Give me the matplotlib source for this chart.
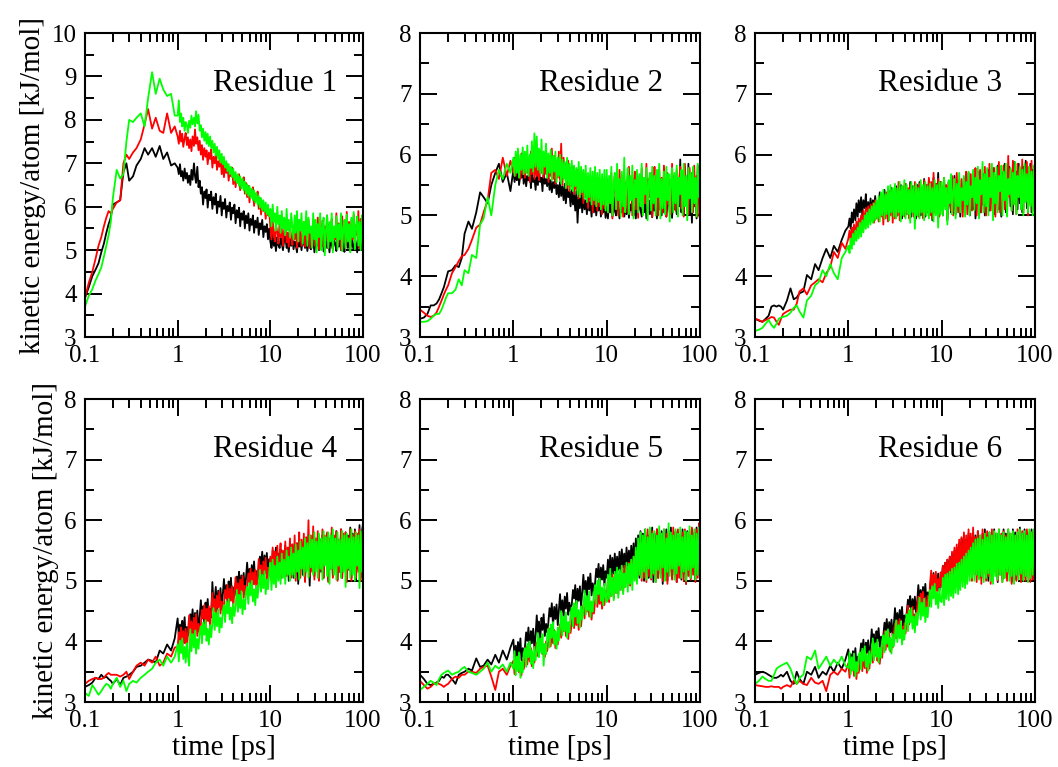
import matplotlib
matplotlib.use("Agg")
import matplotlib.pyplot as plt
from matplotlib.ticker import MultipleLocator, LogLocator, NullFormatter

plt.rcParams['font.family'] = ['Liberation Serif', 'DejaVu Serif']

# time axis shared by all traces (ps); denser sampling beyond 1 ps
time_ps = [
    0.10, 0.11, 0.12, 0.13, 0.14, 0.15, 0.16, 0.17, 0.18, 0.19,
    0.20, 0.22, 0.24, 0.26, 0.28, 0.30, 0.33, 0.36, 0.40, 0.44,
    0.48, 0.53, 0.58, 0.64, 0.70, 0.77, 0.85, 0.93,
    1.00, 1.03, 1.06, 1.09, 1.12, 1.15, 1.19, 1.22, 1.26, 1.29,
    1.33, 1.37, 1.41, 1.45, 1.50, 1.54, 1.58, 1.63, 1.68, 1.73,
    1.78, 1.83, 1.88, 1.94, 2.00, 2.05, 2.11, 2.17, 2.24, 2.30,
    2.37, 2.44, 2.51, 2.58, 2.66, 2.74, 2.82, 2.90, 2.99, 3.07,
    3.16, 3.25, 3.35, 3.45, 3.55, 3.65, 3.76, 3.87, 3.98, 4.10,
    4.22, 4.35, 4.47, 4.60, 4.73, 4.87, 5.01, 5.16, 5.31, 5.46,
    5.62, 5.79, 5.96, 6.13, 6.31, 6.49, 6.68, 6.88, 7.08, 7.29,
    7.50, 7.72, 7.94, 8.18, 8.41, 8.66, 8.91, 9.17, 9.44, 9.72,
    10.0, 10.3, 10.6, 10.9, 11.2, 11.5, 11.9, 12.2, 12.6, 12.9,
    13.3, 13.7, 14.1, 14.5, 15.0, 15.4, 15.8, 16.3, 16.8, 17.3,
    17.8, 18.3, 18.8, 19.4, 20.0, 20.5, 21.1, 21.7, 22.4, 23.0,
    23.7, 24.4, 25.1, 25.8, 26.6, 27.4, 28.2, 29.0, 29.9, 30.7,
    31.6, 32.5, 33.5, 34.5, 35.5, 36.5, 37.6, 38.7, 39.8, 41.0,
    42.2, 43.5, 44.7, 46.0, 47.3, 48.7, 50.1, 51.6, 53.1, 54.6,
    56.2, 57.9, 59.6, 61.3, 63.1, 64.9, 66.8, 68.8, 70.8, 72.9,
    75.0, 77.2, 79.4, 81.8, 84.1, 86.6, 89.1, 91.7, 94.4, 97.2,
    100.0,
]

res1_black = [
    3.90, 4.15, 4.40, 4.55, 4.70, 4.95, 5.15, 5.40, 5.60, 5.75,
    6.05, 6.10, 6.15, 6.80, 7.00, 6.60, 6.70, 6.95, 7.10, 7.35,
    7.20, 7.35, 7.15, 7.40, 7.10, 7.25, 6.95, 7.00,
    6.90, 6.75, 6.98, 6.70, 6.82, 6.60, 6.88, 6.65, 6.78, 6.55,
    6.72, 6.50, 6.85, 6.62, 7.00, 6.70, 6.55, 6.92, 6.45, 6.60,
    6.30, 6.45, 6.05, 6.35, 6.20, 6.40, 5.98, 6.28, 6.15, 6.35,
    5.95, 6.22, 6.05, 6.30, 5.85, 6.12, 6.00, 6.25, 5.80, 6.10,
    5.95, 6.18, 5.75, 6.02, 5.90, 6.10, 5.70, 5.98, 5.85, 6.05,
    5.62, 5.92, 5.75, 5.98, 5.55, 5.85, 5.70, 5.90, 5.50, 5.80,
    5.62, 5.85, 5.45, 5.72, 5.58, 5.80, 5.40, 5.68, 5.52, 5.75,
    5.35, 5.62, 5.48, 5.70, 5.30, 5.55, 5.42, 5.60, 5.25, 5.50,
    5.20, 5.05, 5.35, 5.10, 5.25, 4.98, 5.30, 5.12, 5.05, 5.28,
    5.15, 5.00, 5.22, 5.32, 5.05, 5.18, 4.96, 5.25, 5.10, 5.30,
    5.02, 5.20, 5.12, 4.95, 5.28, 5.08, 5.22, 5.00, 5.30, 5.15,
    5.05, 5.25, 4.98, 5.18, 5.32, 5.02, 5.15, 5.25, 4.95, 5.20,
    5.10, 5.30, 5.00, 5.22, 5.08, 5.35, 4.97, 5.18, 5.28, 5.05,
    5.20, 4.95, 5.30, 5.12, 5.02, 5.25, 5.15, 4.98, 5.32, 5.08,
    5.22, 5.00, 5.28, 5.10, 4.96, 5.30, 5.18, 5.05, 5.25, 4.98,
    5.35, 5.10, 5.02, 5.28, 5.15, 4.95, 5.30, 5.05, 5.22, 5.00,
    5.10,
]
res1_red = [
    3.90, 4.25, 4.50, 4.80, 5.10, 5.30, 5.55, 5.75, 5.90, 5.85,
    5.95, 6.10, 6.15, 7.00, 7.20, 7.10, 7.25, 7.35, 7.55, 7.90,
    8.25, 7.80, 8.05, 7.75, 7.70, 8.15, 7.70, 7.85,
    7.62, 7.45, 7.75, 7.50, 7.68, 7.38, 7.58, 7.70, 7.42, 7.60,
    7.35, 7.55, 7.28, 7.62, 7.40, 7.78, 7.45, 7.60, 7.30, 7.52,
    7.20, 7.42, 7.08, 7.35, 7.15, 7.30, 6.98, 7.25, 7.10, 7.32,
    6.90, 7.15, 7.00, 7.22, 6.85, 7.05, 6.92, 7.12, 6.75, 7.00,
    6.68, 6.92, 6.78, 6.98, 6.60, 6.85, 6.70, 6.90, 6.52, 6.78,
    6.45, 6.70, 6.55, 6.75, 6.38, 6.62, 6.48, 6.68, 6.30, 6.55,
    6.22, 6.48, 6.10, 6.40, 6.25, 6.45, 6.02, 6.30, 6.15, 6.35,
    5.95, 6.20, 5.82, 6.10, 5.90, 6.05, 5.72, 5.98, 5.80, 5.92,
    5.55, 5.25, 5.70, 5.35, 5.20, 5.60, 5.40, 5.15, 5.65, 5.30,
    5.50, 5.10, 5.45, 5.62, 5.18, 5.40, 5.08, 5.55, 5.30, 5.12,
    5.48, 5.25, 5.60, 5.05, 5.42, 5.20, 5.55, 5.10, 5.38, 5.65,
    5.08, 5.50, 5.25, 5.70, 5.05, 5.45, 5.30, 5.62, 5.10, 5.55,
    5.20, 5.75, 5.02, 5.48, 5.30, 5.68, 5.08, 5.55, 5.22, 5.80,
    5.05, 5.60, 5.35, 5.72, 5.00, 5.50, 5.25, 5.85, 5.10, 5.62,
    5.38, 5.02, 5.78, 5.20, 5.55, 5.05, 5.88, 5.30, 5.65, 5.00,
    5.70, 5.25, 5.82, 5.08, 5.58, 5.35, 5.90, 5.05, 5.72, 5.20,
    5.40,
]
res1_green = [
    3.70, 3.95, 4.10, 4.30, 4.45, 4.60, 4.85, 5.10, 5.35, 5.65,
    6.20, 6.85, 6.65, 6.75, 7.50, 8.00, 7.95, 8.05, 8.15, 7.85,
    8.50, 9.10, 8.60, 8.95, 8.70, 8.55, 8.60, 8.10,
    8.10, 8.45, 7.95, 8.15, 7.85, 8.05, 7.75, 7.95, 7.88, 7.70,
    7.98, 7.82, 8.10, 7.90, 8.05, 7.85, 8.20, 7.92, 8.12, 7.75,
    7.88, 7.60, 7.80, 7.52, 7.72, 7.45, 7.68, 7.40, 7.62, 7.35,
    7.52, 7.25, 7.45, 7.18, 7.38, 7.10, 7.30, 7.02, 7.22, 6.98,
    7.15, 6.90, 7.05, 6.82, 6.98, 6.75, 6.92, 6.68, 6.88, 6.60,
    6.80, 6.55, 6.75, 6.48, 6.70, 6.42, 6.65, 6.38, 6.58, 6.30,
    6.52, 6.25, 6.48, 6.20, 6.42, 6.15, 6.38, 6.10, 6.32, 6.05,
    6.25, 5.98, 6.20, 5.92, 6.15, 5.88, 6.10, 5.82, 6.05, 5.78,
    5.95, 5.55, 6.05, 5.65, 5.85, 5.45, 6.00, 5.60, 5.80, 5.40,
    5.90, 5.50, 5.75, 5.35, 5.95, 5.45, 5.70, 5.30, 5.85, 5.55,
    5.25, 5.80, 5.40, 5.90, 5.20, 5.70, 5.45, 5.85, 5.15, 5.65,
    5.35, 5.90, 5.10, 5.75, 5.40, 5.55, 5.05, 5.85, 5.25, 5.70,
    4.95, 5.60, 5.30, 5.85, 5.00, 5.50, 5.75, 4.88, 5.45, 5.80,
    5.05, 5.65, 5.20, 5.85, 4.95, 5.55, 5.30, 5.78, 5.02, 5.60,
    5.25, 5.85, 4.98, 5.50, 5.70, 5.05, 5.82, 5.20, 5.60, 4.95,
    5.75, 5.30, 5.88, 5.02, 5.55, 5.78, 5.10, 5.65, 5.00, 5.80,
    5.50,
]

res2_black = [
    3.30, 3.32, 3.38, 3.52, 3.52, 3.55, 3.62, 3.72, 3.82, 3.95,
    4.08, 4.10, 4.18, 4.15, 4.30, 4.70, 4.90, 4.78, 5.05, 5.38,
    5.30, 5.20, 5.50, 5.70, 5.85, 5.55, 5.70, 5.40,
    5.75, 5.55, 5.70, 5.58, 5.82, 5.50, 5.68, 5.62, 5.78, 5.52,
    5.72, 5.48, 5.65, 5.58, 5.80, 5.45, 5.70, 5.55, 5.62, 5.42,
    5.68, 5.50, 5.75, 5.55, 5.62, 5.40, 5.72, 5.52, 5.60, 5.48,
    5.65, 5.42, 5.58, 5.38, 5.55, 5.45, 5.62, 5.35, 5.50, 5.30,
    5.55, 5.32, 5.48, 5.25, 5.52, 5.20, 5.45, 5.30, 5.40, 5.15,
    5.42, 5.18, 5.35, 5.08, 5.40, 4.88, 5.30, 5.12, 5.38, 5.05,
    5.30, 5.10, 5.25, 5.02, 5.32, 5.08, 5.22, 4.98, 5.28, 5.05,
    5.25, 5.00, 5.20, 5.08, 5.28, 4.98, 5.18, 5.05, 5.22, 4.96,
    5.15, 4.95, 5.25, 5.05, 5.18, 4.98, 5.30, 5.08, 5.00, 5.22,
    5.10, 4.95, 5.20, 5.05, 5.28, 4.98, 5.12, 5.02, 5.25, 4.96,
    5.18, 5.08, 5.30, 5.00, 5.15, 4.95, 5.22, 5.05, 5.28, 5.10,
    4.98, 5.20, 5.05, 5.32, 4.95, 5.15, 5.25, 5.02, 5.18, 4.97,
    5.30, 5.08, 5.20, 4.95, 5.25, 5.10, 5.35, 5.00, 5.22, 5.05,
    5.32, 4.98, 5.18, 5.40, 5.05, 5.25, 4.96, 5.35, 5.10, 5.28,
    5.02, 5.45, 5.15, 5.92, 5.05, 5.38, 5.00, 5.80, 5.20, 5.10,
    5.85, 5.02, 5.40, 4.88, 5.75, 5.15, 5.50, 4.95, 5.82, 5.20,
    5.50,
]
res2_red = [
    3.45, 3.40, 3.35, 3.33, 3.35, 3.40, 3.50, 3.60, 3.70, 3.78,
    3.85, 4.05, 4.15, 4.25, 4.33, 4.35, 4.45, 4.60, 4.80, 4.85,
    5.05, 5.25, 5.70, 5.75, 5.60, 5.95, 5.65, 5.90,
    5.70, 5.95, 5.65, 6.00, 5.72, 5.90, 5.60, 6.02, 5.68, 5.92,
    5.62, 5.98, 5.70, 5.85, 5.55, 6.05, 5.68, 5.92, 5.60, 5.88,
    5.65, 5.98, 5.58, 6.05, 5.70, 5.90, 5.62, 6.00, 5.68, 5.95,
    5.55, 5.92, 5.65, 6.10, 5.60, 5.98, 5.52, 5.88, 5.62, 6.05,
    5.58, 6.18, 5.50, 5.95, 5.62, 5.85, 5.45, 5.90, 5.40, 5.78,
    5.48, 5.80, 5.35, 5.72, 5.42, 5.75, 5.28, 5.68, 5.35, 5.70,
    5.20, 5.65, 5.30, 5.58, 5.12, 5.62, 5.25, 5.55, 5.05, 5.60,
    5.18, 5.55, 5.08, 5.62, 5.15, 5.50, 5.02, 5.58, 5.12, 5.52,
    5.60, 5.05, 5.50, 5.20, 5.70, 4.95, 5.45, 5.65, 5.10, 5.55,
    5.00, 5.75, 5.25, 5.45, 4.98, 5.68, 5.15, 5.55, 5.05, 5.80,
    5.30, 5.62, 5.00, 5.48, 5.72, 5.10, 5.40, 4.96, 5.65, 5.25,
    5.78, 5.05, 5.50, 5.20, 5.85, 5.02, 5.60, 5.30, 5.70, 4.98,
    5.45, 5.80, 5.12, 5.55, 5.00, 5.75, 5.25, 5.62, 5.05, 5.82,
    5.35, 4.98, 5.70, 5.18, 5.58, 5.02, 5.85, 5.28, 5.65, 5.08,
    5.75, 5.00, 5.55, 5.80, 5.12, 5.68, 4.98, 5.85, 5.25, 5.60,
    5.02, 5.78, 5.30, 5.70, 5.05, 5.82, 5.15, 5.65, 4.98, 5.80,
    5.40,
]
res2_green = [
    3.25, 3.25, 3.26, 3.30, 3.35, 3.38, 3.38, 3.45, 3.55, 3.65,
    3.72, 3.72, 3.78, 3.95, 3.85, 4.10, 4.05, 4.35, 4.30, 4.85,
    4.95, 5.30, 5.00, 5.50, 5.75, 5.60, 5.85, 5.70,
    5.95, 5.65, 6.05, 5.70, 6.10, 5.62, 6.00, 5.75, 6.12, 5.68,
    6.05, 5.70, 6.15, 5.65, 6.00, 5.78, 6.22, 5.72, 6.35, 5.80,
    6.30, 5.75, 6.10, 5.70, 6.25, 5.68, 6.05, 5.80, 6.18, 5.62,
    6.02, 5.70, 6.08, 5.58, 5.98, 5.72, 6.05, 5.55, 5.95, 5.65,
    6.00, 5.52, 5.92, 5.60, 5.88, 5.45, 5.95, 5.50, 5.85, 5.42,
    5.90, 5.40, 5.82, 5.48, 5.78, 5.35, 5.88, 5.30, 5.80, 5.38,
    5.75, 5.28, 5.82, 5.22, 5.70, 5.30, 5.78, 5.18, 5.72, 5.25,
    5.80, 5.15, 5.70, 5.22, 5.75, 5.10, 5.68, 5.18, 5.75, 5.08,
    5.75, 5.05, 5.65, 5.20, 5.80, 5.00, 5.55, 5.70, 5.10, 5.85,
    5.25, 5.60, 4.98, 5.72, 5.15, 5.95, 5.05, 5.50, 5.78, 5.02,
    5.65, 5.25, 5.82, 4.95, 5.58, 5.30, 5.75, 5.05, 5.68, 5.15,
    5.85, 5.00, 5.62, 5.35, 5.78, 4.92, 5.55, 5.70, 5.08, 5.80,
    5.20, 5.65, 5.00, 5.75, 5.30, 5.85, 4.95, 5.60, 5.12, 5.72,
    5.02, 5.80, 5.25, 5.68, 4.90, 5.58, 5.78, 5.05, 5.70, 5.20,
    5.82, 4.98, 5.62, 5.35, 5.75, 5.00, 5.85, 5.15, 5.65, 4.92,
    5.78, 5.28, 5.70, 5.05, 5.80, 5.20, 5.62, 4.98, 5.85, 5.30,
    5.55,
]

res3_black = [
    3.30, 3.27, 3.25, 3.30, 3.35, 3.50, 3.52, 3.50, 3.52, 3.50,
    3.45, 3.60, 3.80, 3.62, 3.65, 3.72, 3.75, 4.02, 3.95, 4.20,
    4.10, 4.30, 4.45, 4.30, 4.50, 4.40, 4.60, 4.75,
    4.82, 4.95, 4.78, 5.05, 4.88, 5.10, 4.92, 5.20, 4.98, 5.25,
    5.05, 5.30, 5.00, 5.25, 5.12, 5.35, 5.02, 5.22, 5.08, 5.28,
    5.00, 5.25, 5.10, 5.32, 5.02, 5.20, 5.15, 5.38, 5.05, 5.30,
    5.00, 5.42, 5.08, 5.35, 4.98, 5.40, 5.12, 5.45, 5.02, 5.38,
    5.10, 5.48, 5.00, 5.42, 5.15, 5.50, 4.95, 5.45, 5.08, 5.52,
    5.02, 5.40, 5.15, 5.55, 4.98, 5.48, 5.10, 5.42, 4.95, 5.50,
    5.08, 5.55, 5.00, 5.45, 5.12, 5.60, 4.98, 5.50, 5.05, 5.58,
    5.10, 5.48, 4.92, 5.62, 5.05, 5.52, 5.15, 5.70, 5.00, 5.55,
    5.45, 5.00, 5.60, 5.15, 5.35, 4.92, 5.55, 5.25, 5.05, 5.50,
    5.10, 5.65, 5.02, 5.40, 5.20, 5.58, 4.98, 5.45, 5.30, 5.62,
    5.05, 5.48, 5.15, 5.70, 5.00, 5.35, 5.55, 5.10, 5.65, 4.95,
    5.42, 5.25, 5.72, 5.05, 5.50, 5.18, 5.68, 5.00, 5.55, 5.30,
    5.75, 5.08, 5.45, 5.22, 5.78, 5.02, 5.60, 5.35, 5.82, 5.10,
    5.50, 4.98, 5.70, 5.28, 5.85, 5.05, 5.62, 5.40, 5.80, 5.15,
    5.55, 5.02, 5.88, 5.30, 5.72, 5.10, 5.85, 5.20, 5.65, 5.05,
    5.80, 5.35, 5.90, 5.12, 5.70, 5.25, 5.85, 5.05, 5.75, 5.30,
    5.60,
]
res3_red = [
    3.30, 3.28, 3.25, 3.28, 3.30, 3.33, 3.32, 3.25, 3.20, 3.30,
    3.38, 3.42, 3.45, 3.45, 3.55, 3.75, 3.80, 3.70, 3.85, 3.90,
    3.95, 3.90, 4.05, 4.15, 4.40, 4.30, 4.55, 4.45,
    4.62, 4.75, 4.58, 4.80, 4.68, 4.85, 4.62, 4.90, 4.72, 4.95,
    4.78, 5.00, 4.82, 5.08, 4.85, 5.12, 4.88, 5.15, 4.90, 5.18,
    4.92, 5.20, 4.88, 5.25, 4.95, 5.22, 4.90, 5.30, 4.98, 5.28,
    4.85, 5.32, 4.95, 5.38, 4.90, 5.30, 5.00, 5.42, 4.88, 5.35,
    4.95, 5.45, 5.00, 5.55, 4.92, 5.40, 5.05, 5.48, 4.98, 5.52,
    5.02, 5.45, 4.95, 5.50, 5.08, 5.42, 4.98, 5.55, 5.05, 5.48,
    4.98, 5.52, 5.05, 5.45, 4.95, 5.58, 5.02, 5.50, 5.08, 5.62,
    5.00, 5.55, 4.95, 5.70, 5.05, 5.52, 5.10, 5.60, 4.98, 5.55,
    5.40, 5.02, 5.62, 5.18, 5.50, 4.95, 5.55, 5.28, 5.08, 5.65,
    5.00, 5.48, 5.22, 5.70, 5.05, 5.42, 5.15, 5.60, 4.98, 5.55,
    5.30, 5.72, 5.02, 5.45, 5.20, 5.68, 5.08, 5.52, 5.35, 5.78,
    5.00, 5.58, 5.25, 5.75, 5.05, 5.48, 5.18, 5.80, 5.00, 5.62,
    5.32, 5.85, 5.08, 5.55, 5.22, 5.78, 4.98, 5.65, 5.40, 5.88,
    5.05, 5.60, 5.28, 5.82, 5.10, 5.70, 5.00, 5.98, 5.30, 5.75,
    5.08, 5.90, 5.22, 5.68, 5.02, 5.85, 5.35, 5.78, 5.10, 5.92,
    5.05, 5.70, 5.28, 5.88, 5.00, 5.80, 5.18, 5.90, 5.08, 5.75,
    5.70,
]
res3_green = [
    3.10, 3.12, 3.15, 3.22, 3.28, 3.20, 3.15, 3.22, 3.30, 3.32,
    3.33, 3.35, 3.40, 3.48, 3.52, 3.42, 3.32, 3.60, 3.68, 3.85,
    3.90, 4.10, 4.00, 4.20, 4.05, 3.95, 4.30, 4.40,
    4.50, 4.38, 4.62, 4.45, 4.70, 4.52, 4.75, 4.58, 4.80, 4.62,
    4.88, 4.65, 4.92, 4.72, 5.00, 4.78, 5.05, 4.80, 5.10, 4.85,
    5.15, 4.88, 5.20, 4.92, 5.25, 4.95, 5.32, 4.90, 5.38, 5.00,
    5.42, 4.95, 5.35, 5.02, 5.48, 4.92, 5.50, 5.05, 5.45, 4.98,
    5.52, 4.95, 5.45, 5.05, 5.55, 4.90, 5.48, 5.00, 5.58, 4.95,
    5.50, 5.02, 5.42, 4.88, 5.55, 5.05, 5.48, 4.78, 5.52, 5.00,
    5.45, 4.95, 5.58, 5.05, 5.50, 4.92, 5.55, 5.00, 5.48, 4.95,
    5.52, 5.05, 5.45, 4.90, 5.58, 5.00, 5.50, 4.80, 5.55, 5.02,
    5.55, 5.00, 5.62, 5.10, 5.45, 4.85, 5.58, 5.20, 5.68, 5.02,
    5.38, 5.60, 4.95, 5.52, 5.15, 5.70, 5.05, 5.45, 5.25, 5.65,
    4.98, 5.55, 5.18, 5.72, 5.00, 5.48, 5.30, 5.75, 5.08, 5.62,
    5.20, 5.80, 4.95, 5.58, 5.35, 5.88, 5.05, 5.68, 5.15, 5.78,
    5.00, 5.62, 5.30, 5.85, 4.92, 5.70, 5.20, 5.80, 5.05, 5.65,
    5.40, 5.82, 5.00, 5.72, 5.25, 5.85, 4.98, 5.60, 5.35, 5.78,
    5.08, 5.70, 5.18, 5.88, 5.02, 5.65, 5.30, 5.80, 5.10, 5.75,
    5.00, 5.85, 5.22, 5.68, 5.05, 5.80, 5.15, 5.72, 5.00, 5.82,
    5.50,
]

res4_black = [
    3.25, 3.28, 3.32, 3.40, 3.38, 3.45, 3.40, 3.42, 3.38, 3.35,
    3.30, 3.38, 3.28, 3.40, 3.42, 3.45, 3.50, 3.58, 3.60, 3.65,
    3.70, 3.68, 3.65, 3.85, 3.80, 3.95, 3.85, 4.05,
    4.38, 4.08, 4.28, 4.00, 4.34, 4.14, 4.40, 4.04, 4.24, 4.10,
    4.21, 4.45, 4.31, 4.53, 4.15, 4.47, 4.27, 4.51, 4.17, 4.41,
    4.68, 4.38, 4.58, 4.30, 4.64, 4.44, 4.70, 4.34, 4.54, 4.40,
    4.98, 4.62, 4.68, 4.90, 4.52, 4.84, 4.64, 4.88, 4.54, 4.78,
    5.03, 4.73, 4.93, 4.65, 4.99, 4.79, 5.05, 4.69, 4.89, 4.75,
    4.83, 5.07, 4.93, 5.15, 4.77, 5.09, 4.89, 5.13, 4.79, 5.03,
    5.30, 5.00, 5.20, 4.92, 5.26, 5.06, 5.32, 4.96, 5.16, 5.02,
    5.16, 5.40, 5.26, 5.48, 5.10, 5.42, 5.22, 5.46, 5.12, 5.36,
    5.35, 5.05, 5.50, 5.15, 5.40, 5.55, 5.10, 5.45, 5.25, 5.52,
    5.08, 5.42, 5.30, 5.58, 5.12, 5.48, 5.00, 5.55, 5.20, 5.60,
    5.05, 5.50, 5.25, 5.62, 4.95, 5.48, 5.30, 5.65, 5.10, 5.55,
    5.00, 5.68, 5.20, 5.58, 4.92, 5.62, 5.35, 5.70, 5.08, 5.55,
    5.25, 5.72, 5.02, 5.60, 5.15, 5.75, 5.05, 5.65, 5.30, 5.78,
    5.00, 5.62, 5.20, 5.80, 5.08, 5.70, 5.25, 5.82, 5.02, 5.68,
    5.15, 5.85, 5.05, 5.72, 5.30, 5.80, 5.00, 5.75, 5.18, 5.88,
    5.05, 5.78, 5.25, 5.85, 5.00, 5.72, 5.20, 5.92, 5.05, 5.80,
    5.95,
]
res4_red = [
    3.30, 3.35, 3.38, 3.40, 3.38, 3.38, 3.40, 3.45, 3.48, 3.45,
    3.45, 3.45, 3.42, 3.45, 3.50, 3.38, 3.50, 3.60, 3.65, 3.60,
    3.70, 3.65, 3.75, 3.60, 3.65, 3.80, 3.75, 3.90,
    3.91, 4.15, 4.01, 4.23, 3.85, 4.17, 3.97, 4.21, 3.87, 4.11,
    4.43, 4.13, 4.33, 4.05, 4.39, 4.19, 4.45, 4.09, 4.29, 4.15,
    4.28, 4.52, 4.38, 4.60, 4.22, 4.54, 4.34, 4.58, 4.24, 4.48,
    4.80, 4.50, 4.70, 4.42, 4.76, 4.56, 4.82, 4.46, 4.66, 4.52,
    4.61, 4.85, 4.71, 4.93, 4.55, 4.87, 4.67, 4.91, 4.57, 4.81,
    5.06, 4.76, 4.96, 4.68, 5.02, 4.82, 5.08, 4.72, 4.92, 4.78,
    4.88, 5.12, 4.98, 5.20, 4.82, 5.14, 4.94, 5.18, 4.84, 5.08,
    5.36, 5.06, 5.26, 4.98, 5.32, 5.12, 5.38, 5.02, 5.22, 5.08,
    5.40, 5.00, 5.55, 5.10, 5.48, 4.90, 5.58, 5.15, 5.40, 5.62,
    5.05, 5.50, 5.20, 5.65, 5.08, 5.55, 5.25, 5.70, 5.05, 5.60,
    5.15, 5.75, 5.00, 5.62, 5.28, 5.80, 5.05, 5.68, 5.20, 5.78,
    4.98, 5.72, 5.30, 6.00, 5.08, 5.75, 5.15, 5.90, 5.02, 5.70,
    5.25, 5.82, 5.00, 5.68, 5.18, 5.85, 5.05, 5.75, 5.30, 5.80,
    4.98, 5.70, 5.20, 5.88, 5.05, 5.75, 5.25, 5.82, 5.00, 5.68,
    5.15, 5.85, 5.05, 5.78, 5.30, 5.80, 4.98, 5.72, 5.20, 5.85,
    5.00, 5.75, 5.25, 5.82, 5.05, 5.78, 5.15, 5.85, 5.00, 5.80,
    5.45,
]
res4_green = [
    3.15, 3.10, 3.28, 3.20, 3.12, 3.18, 3.25, 3.30, 3.28, 3.22,
    3.30, 3.40, 3.25, 3.35, 3.18, 3.30, 3.35, 3.32, 3.40, 3.45,
    3.50, 3.55, 3.65, 3.70, 3.60, 3.75, 3.65, 3.75,
    3.95, 3.67, 4.01, 3.81, 4.05, 3.71, 3.91, 3.65, 3.97, 3.77,
    3.60, 4.20, 3.84, 4.12, 3.90, 4.18, 3.80, 4.04, 3.88, 4.16,
    4.25, 3.97, 4.31, 4.11, 4.35, 4.01, 4.21, 3.95, 4.27, 4.07,
    4.29, 4.55, 4.19, 4.47, 4.25, 4.53, 4.15, 4.39, 4.23, 4.51,
    4.60, 4.32, 4.66, 4.46, 4.70, 4.36, 4.56, 4.30, 4.62, 4.42,
    4.59, 4.85, 4.49, 4.77, 4.55, 4.83, 4.45, 4.69, 4.53, 4.81,
    4.90, 4.62, 4.96, 4.76, 5.00, 4.66, 4.86, 4.60, 4.92, 4.72,
    4.92, 5.18, 4.82, 5.10, 4.88, 5.16, 4.78, 5.02, 4.86, 5.14,
    5.30, 4.85, 5.35, 4.95, 5.25, 4.90, 5.40, 5.00, 5.30, 4.95,
    5.45, 5.05, 5.35, 4.95, 5.50, 5.10, 5.40, 5.00, 5.55, 5.10,
    5.45, 5.05, 5.60, 5.15, 5.50, 5.02, 5.65, 5.20, 5.55, 5.08,
    5.70, 5.15, 5.62, 5.05, 5.75, 5.22, 5.68, 5.10, 5.80, 5.15,
    5.65, 5.05, 5.78, 5.20, 5.70, 5.02, 5.82, 5.25, 5.72, 5.08,
    5.80, 4.95, 5.75, 5.20, 5.85, 5.10, 5.70, 5.02, 5.80, 5.25,
    5.68, 5.05, 5.82, 5.15, 5.75, 4.90, 5.78, 5.20, 5.70, 5.05,
    5.85, 5.10, 5.72, 5.00, 5.80, 5.25, 5.75, 4.88, 5.82, 5.15,
    5.55,
]

res5_black = [
    3.45, 3.38, 3.30, 3.28, 3.30, 3.32, 3.35, 3.42, 3.40, 3.45,
    3.45, 3.38, 3.30, 3.45, 3.48, 3.50, 3.55, 3.52, 3.72, 3.58,
    3.60, 3.70, 3.62, 3.78, 3.65, 3.85, 3.70, 3.90,
    4.03, 3.73, 3.93, 3.65, 3.99, 3.79, 4.05, 3.69, 3.89, 3.75,
    3.91, 4.15, 4.01, 4.23, 3.85, 4.17, 3.97, 4.21, 3.87, 4.11,
    4.43, 4.13, 4.33, 4.05, 4.39, 4.19, 4.45, 4.09, 4.29, 4.15,
    4.31, 4.55, 4.41, 4.63, 4.25, 4.57, 4.37, 4.61, 4.27, 4.51,
    4.78, 4.48, 4.68, 4.40, 4.74, 4.54, 4.80, 4.44, 4.64, 4.50,
    4.61, 4.85, 4.71, 4.93, 4.55, 4.87, 4.67, 4.91, 4.57, 4.81,
    5.10, 4.80, 5.00, 4.72, 5.06, 4.86, 5.12, 4.76, 4.96, 4.82,
    4.96, 5.20, 5.06, 5.28, 4.90, 5.22, 5.02, 5.26, 4.92, 5.16,
    5.05, 5.35, 5.10, 5.42, 5.00, 5.38, 5.12, 5.45, 5.05, 5.40,
    5.18, 5.48, 5.10, 5.52, 5.22, 5.45, 5.15, 5.55, 5.25, 5.50,
    5.20, 5.58, 5.28, 5.62, 5.10, 5.70, 5.30, 5.75, 5.05, 5.82,
    5.25, 5.78, 5.00, 5.85, 5.20, 5.75, 5.05, 5.80, 5.15, 5.88,
    4.98, 5.78, 5.25, 5.85, 5.05, 5.70, 5.20, 5.82, 4.95, 5.75,
    5.10, 5.85, 5.00, 5.78, 5.25, 5.88, 5.05, 5.72, 5.15, 5.82,
    4.98, 5.80, 5.20, 5.75, 5.02, 5.85, 5.12, 5.78, 4.95, 5.82,
    5.20, 5.70, 5.05, 5.85, 5.15, 5.80, 5.00, 5.88, 5.10, 5.78,
    5.60,
]
res5_red = [
    3.35, 3.28, 3.22, 3.25, 3.30, 3.32, 3.30, 3.28, 3.25, 3.28,
    3.30, 3.38, 3.42, 3.40, 3.45, 3.45, 3.50, 3.50, 3.48, 3.55,
    3.58, 3.60, 3.42, 3.20, 3.50, 3.55, 3.45, 3.60,
    3.68, 3.46, 3.73, 3.57, 3.76, 3.49, 3.65, 3.44, 3.70, 3.54,
    3.70, 3.91, 3.62, 3.85, 3.67, 3.89, 3.59, 3.78, 3.65, 3.88,
    3.98, 3.76, 4.03, 3.87, 4.06, 3.79, 3.95, 3.74, 4.00, 3.84,
    4.00, 4.21, 3.92, 4.15, 3.97, 4.19, 3.89, 4.08, 3.95, 4.18,
    4.28, 4.06, 4.33, 4.17, 4.36, 4.09, 4.25, 4.04, 4.30, 4.14,
    4.30, 4.51, 4.22, 4.45, 4.27, 4.49, 4.19, 4.38, 4.25, 4.48,
    4.60, 4.38, 4.65, 4.49, 4.68, 4.41, 4.57, 4.36, 4.62, 4.46,
    4.65, 4.86, 4.57, 4.80, 4.62, 4.84, 4.54, 4.73, 4.60, 4.83,
    4.70, 5.05, 4.65, 5.00, 4.75, 5.10, 4.72, 5.08, 4.80, 5.15,
    4.78, 5.12, 4.85, 5.20, 4.82, 5.25, 4.90, 5.22, 4.95, 5.30,
    4.92, 5.35, 5.00, 5.40, 5.05, 5.50, 5.02, 5.55, 5.10, 5.65,
    5.00, 5.72, 5.05, 5.80, 4.98, 5.85, 5.08, 5.78, 5.02, 5.82,
    5.10, 5.75, 4.98, 5.85, 5.05, 5.80, 5.12, 5.72, 5.00, 5.85,
    5.08, 5.78, 4.95, 5.82, 5.15, 5.75, 5.02, 5.88, 5.10, 5.80,
    4.98, 5.85, 5.05, 5.72, 5.12, 5.80, 5.00, 5.85, 4.95, 5.78,
    5.08, 5.82, 5.02, 5.88, 5.10, 5.75, 4.98, 5.85, 5.05, 5.95,
    5.50,
]
res5_green = [
    3.20, 3.25, 3.30, 3.35, 3.32, 3.28, 3.38, 3.45, 3.48, 3.50,
    3.52, 3.45, 3.48, 3.50, 3.55, 3.58, 3.50, 3.48, 3.45, 3.50,
    3.55, 3.65, 3.50, 3.60, 3.55, 3.62, 3.50, 3.65,
    3.55, 3.84, 3.44, 3.75, 3.51, 3.82, 3.40, 3.66, 3.49, 3.80,
    3.89, 3.58, 3.96, 3.74, 4.00, 3.63, 3.85, 3.56, 3.91, 3.69,
    3.85, 4.14, 3.74, 4.05, 3.81, 4.12, 3.60, 3.96, 3.79, 4.10,
    4.21, 3.90, 4.28, 4.06, 4.32, 3.95, 4.17, 3.88, 4.23, 4.01,
    4.21, 4.50, 4.10, 4.41, 4.17, 4.48, 4.06, 4.32, 4.15, 4.46,
    4.56, 4.25, 4.63, 4.41, 4.67, 4.30, 4.52, 4.23, 4.58, 4.36,
    4.55, 4.84, 4.44, 4.75, 4.51, 4.82, 4.40, 4.66, 4.49, 4.80,
    4.93, 4.62, 5.00, 4.78, 5.04, 4.67, 4.89, 4.60, 4.95, 4.73,
    4.65, 5.10, 4.70, 5.20, 4.75, 5.05, 4.68, 5.15, 4.80, 5.22,
    4.72, 5.18, 4.85, 5.25, 4.78, 5.12, 4.90, 5.30, 4.82, 5.28,
    4.95, 5.35, 4.85, 5.40, 5.00, 5.55, 4.95, 5.70, 5.10, 5.80,
    5.05, 5.75, 5.15, 5.85, 5.02, 5.72, 5.20, 5.88, 5.05, 5.78,
    5.12, 5.82, 4.98, 5.75, 5.18, 5.90, 5.05, 5.78, 5.22, 5.85,
    5.00, 5.70, 5.15, 5.95, 5.08, 5.80, 5.20, 5.75, 5.02, 5.85,
    5.12, 5.78, 5.25, 5.88, 5.05, 5.72, 5.15, 5.82, 5.00, 5.80,
    5.18, 5.90, 5.05, 5.75, 5.22, 5.85, 5.02, 5.78, 5.10, 5.88,
    5.50,
]

res6_black = [
    3.45, 3.48, 3.50, 3.48, 3.45, 3.42, 3.40, 3.40, 3.42, 3.45,
    3.42, 3.50, 3.35, 3.30, 3.50, 3.38, 3.30, 3.50, 3.45, 3.58,
    3.40, 3.50, 3.45, 3.60, 3.50, 3.65, 3.55, 3.70,
    3.87, 3.62, 3.79, 3.55, 3.84, 3.67, 3.89, 3.58, 3.75, 3.63,
    3.76, 3.97, 3.85, 4.03, 3.71, 3.98, 3.81, 4.02, 3.73, 3.93,
    4.20, 3.95, 4.12, 3.88, 4.17, 4.00, 4.22, 3.91, 4.08, 3.96,
    4.10, 4.31, 4.19, 4.37, 4.05, 4.32, 4.15, 4.36, 4.07, 4.27,
    4.55, 4.30, 4.47, 4.23, 4.52, 4.35, 4.57, 4.26, 4.43, 4.31,
    4.48, 4.69, 4.57, 4.75, 4.43, 4.70, 4.53, 4.74, 4.45, 4.65,
    4.93, 4.68, 4.85, 4.61, 4.90, 4.73, 4.95, 4.64, 4.81, 4.69,
    4.86, 5.07, 4.95, 5.13, 4.81, 5.08, 4.91, 5.12, 4.83, 5.03,
    5.05, 5.25, 5.00, 5.30, 5.10, 5.35, 5.08, 5.40, 5.15, 5.45,
    5.20, 5.50, 5.25, 5.55, 5.30, 5.62, 5.35, 5.70, 5.40, 5.75,
    5.30, 5.68, 5.45, 5.78, 5.25, 5.72, 5.35, 5.80, 5.20, 5.75,
    5.10, 5.82, 5.30, 5.70, 5.05, 5.78, 5.22, 5.85, 5.08, 5.75,
    5.00, 5.80, 5.18, 5.72, 5.05, 5.85, 5.25, 5.78, 4.98, 5.82,
    5.12, 5.75, 5.02, 5.85, 5.20, 5.78, 5.05, 5.82, 5.15, 5.72,
    4.98, 5.85, 5.10, 5.80, 5.02, 5.75, 5.22, 5.88, 5.05, 5.78,
    5.00, 5.85, 5.15, 5.80, 5.05, 5.72, 5.20, 5.85, 5.00, 5.82,
    5.80,
]
res6_red = [
    3.28, 3.27, 3.26, 3.25, 3.25, 3.26, 3.25, 3.25, 3.25, 3.22,
    3.25, 3.28, 3.25, 3.35, 3.30, 3.35, 3.30, 3.28, 3.40, 3.32,
    3.30, 3.35, 3.18, 3.45, 3.50, 3.45, 3.55, 3.50,
    3.64, 3.40, 3.69, 3.52, 3.72, 3.43, 3.60, 3.38, 3.65, 3.48,
    3.60, 3.82, 3.51, 3.75, 3.56, 3.80, 3.48, 3.68, 3.55, 3.79,
    3.89, 3.65, 3.94, 3.77, 3.97, 3.68, 3.85, 3.63, 3.90, 3.73,
    3.95, 4.17, 3.86, 4.10, 3.91, 4.15, 3.83, 4.03, 3.90, 4.14,
    4.29, 4.05, 4.34, 4.17, 4.37, 4.08, 4.25, 4.03, 4.30, 4.13,
    4.37, 4.59, 4.28, 4.52, 4.33, 4.57, 4.25, 4.45, 4.32, 4.56,
    4.74, 4.50, 4.79, 4.62, 4.82, 4.53, 4.70, 4.48, 4.75, 4.58,
    4.95, 5.17, 4.86, 5.10, 4.91, 5.15, 4.83, 5.03, 4.90, 5.14,
    4.90, 5.25, 4.85, 5.30, 4.95, 5.35, 4.92, 5.40, 5.00, 5.48,
    5.02, 5.55, 5.08, 5.60, 5.10, 5.68, 5.15, 5.72, 5.05, 5.80,
    5.20, 5.75, 5.08, 5.85, 5.15, 5.78, 5.00, 5.88, 5.10, 5.72,
    4.98, 5.82, 5.05, 5.75, 4.95, 5.85, 5.12, 5.78, 5.00, 5.82,
    5.08, 5.75, 4.95, 5.85, 5.02, 5.80, 5.15, 5.72, 5.00, 5.85,
    5.10, 5.78, 4.98, 5.82, 5.05, 5.75, 5.00, 5.85, 5.12, 5.78,
    4.95, 5.80, 5.05, 5.72, 5.00, 5.85, 5.10, 5.78, 4.98, 5.82,
    5.05, 5.75, 5.00, 5.85, 5.10, 5.78, 4.98, 5.80, 5.02, 5.75,
    5.50,
]
res6_green = [
    3.30, 3.35, 3.42, 3.38, 3.35, 3.35, 3.45, 3.55, 3.58, 3.60,
    3.62, 3.65, 3.55, 3.40, 3.30, 3.40, 3.45, 3.75, 3.70, 3.85,
    3.55, 3.65, 3.75, 3.60, 3.70, 3.62, 3.75, 3.60,
    3.56, 3.82, 3.46, 3.74, 3.52, 3.80, 3.42, 3.66, 3.50, 3.78,
    3.82, 3.54, 3.88, 3.68, 3.92, 3.58, 3.78, 3.52, 3.84, 3.64,
    3.79, 4.05, 3.69, 3.97, 3.75, 4.03, 3.65, 3.89, 3.73, 4.01,
    4.10, 3.82, 4.16, 3.96, 4.20, 3.86, 4.06, 3.80, 4.12, 3.92,
    4.09, 4.35, 3.99, 4.27, 4.05, 4.33, 3.95, 4.19, 4.03, 4.31,
    4.45, 4.17, 4.51, 4.31, 4.55, 4.21, 4.41, 4.15, 4.47, 4.27,
    4.46, 4.72, 4.36, 4.64, 4.42, 4.70, 4.32, 4.56, 4.40, 4.68,
    4.85, 4.57, 4.91, 4.71, 4.95, 4.61, 4.81, 4.55, 4.87, 4.67,
    4.65, 5.05, 4.60, 5.10, 4.70, 5.12, 4.68, 5.15, 4.75, 5.20,
    4.72, 5.22, 4.80, 5.28, 4.78, 5.30, 4.85, 5.35, 4.90, 5.40,
    4.88, 5.45, 4.95, 5.50, 5.00, 5.55, 5.05, 5.62, 5.00, 5.68,
    5.10, 5.70, 5.02, 5.75, 5.08, 5.68, 4.98, 5.78, 5.05, 5.72,
    5.12, 5.80, 5.00, 5.75, 4.95, 5.82, 5.08, 5.78, 5.02, 5.85,
    5.10, 5.75, 4.98, 5.80, 5.05, 5.72, 5.15, 5.85, 5.00, 5.78,
    5.08, 5.82, 4.95, 5.75, 5.10, 5.80, 5.02, 5.85, 5.12, 5.78,
    5.00, 5.82, 5.08, 5.75, 4.98, 5.85, 5.05, 5.80, 5.10, 5.85,
    5.55,
]

panel_titles = ["Residue 1", "Residue 2", "Residue 3", "Residue 4", "Residue 5", "Residue 6"]
panel_series = [
    (res1_black, res1_red, res1_green),
    (res2_black, res2_red, res2_green),
    (res3_black, res3_red, res3_green),
    (res4_black, res4_red, res4_green),
    (res5_black, res5_red, res5_green),
    (res6_black, res6_red, res6_green),
]
panel_ymax = [10, 8, 8, 8, 8, 8]
line_colors = ["#000000", "#ff0000", "#00ff00"]

fig = plt.figure(figsize=(10.58, 7.67), dpi=100)

col_left = [0.0803, 0.397, 0.7136]
col_width = [0.2628, 0.2647, 0.2647]
row_bottom = [0.5606, 0.0847]
row_height = [0.3963, 0.3950]
title_x = [0.46, 0.425, 0.439]

for i, title in enumerate(panel_titles):
    r, c = divmod(i, 3)
    ax = fig.add_axes([col_left[c], row_bottom[r], col_width[c], row_height[r]])

    for ys, col in zip(panel_series[i], line_colors):
        ax.plot(time_ps, ys, color=col, linewidth=1.3)

    ax.set_xscale('log')
    ax.set_xlim(0.1, 100)
    ax.set_ylim(3, panel_ymax[i])
    ax.set_xticks([0.1, 1, 10, 100])
    ax.set_xticklabels(["0.1", "1", "10", "100"])
    ax.xaxis.set_minor_locator(LogLocator(base=10, subs=[2, 3, 4, 5, 6, 7, 8, 9]))
    ax.xaxis.set_minor_formatter(NullFormatter())
    ax.yaxis.set_major_locator(MultipleLocator(1))
    ax.yaxis.set_minor_locator(MultipleLocator(0.5))

    ax.tick_params(which='both', direction='in', top=True, right=True,
                   labelsize=18, width=1.4, pad=6)
    ax.tick_params(which='major', length=12.5)
    ax.tick_params(which='minor', length=6.5)
    for s in ax.spines.values():
        s.set_linewidth(1.5)

    ax.text(title_x[c], 0.835, title, transform=ax.transAxes,
            fontsize=22.5, ha='left', va='center')

    if c == 0:
        ax.set_ylabel("kinetic energy/atom [kJ/mol]", fontsize=21, labelpad=4)
    if r == 1:
        ax.set_xlabel("time [ps]", fontsize=21, labelpad=2)

fig.savefig("out.png", dpi=100)
